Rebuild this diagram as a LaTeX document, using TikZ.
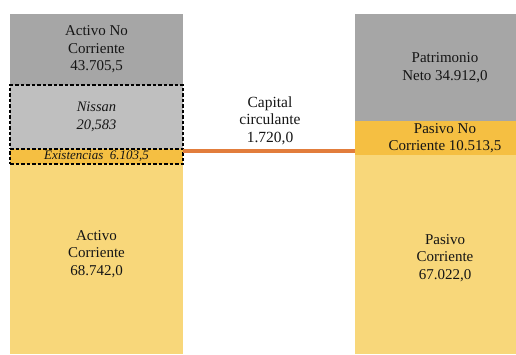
\documentclass[tikz,border=0pt]{standalone}
\usepackage{fontspec}
\setmainfont{Liberation Serif}
\definecolor{gris}{HTML}{A6A6A6}
\definecolor{grisclaro}{HTML}{BFBFBF}
\definecolor{naranja}{HTML}{F5BF42}
\definecolor{amarillo}{HTML}{F8D77A}
\definecolor{linea}{HTML}{E27D3C}
\definecolor{texto}{HTML}{151515}
\begin{document}
\begin{tikzpicture}[x=1pt,y=-1pt,
  bloque/.style={anchor=north west, inner sep=0pt, outer sep=0pt, align=center,
    text=texto, font=\fontsize{15}{17.5}\selectfont},
  rotulo/.style={align=center, text=texto, font=\fontsize{15}{17.5}\selectfont},
  marco/.style={draw=black, line width=1.3pt, dash pattern=on 3.5pt off 2pt},
  conector/.style={draw=linea, line width=4.5pt}]
\clip (0,0) rectangle (516,354);
% activo
\node[bloque, fill=gris, minimum width=173, minimum height=71] (anc) at (10,14) {Activo No\\Corriente\\43.705,5};
\node[bloque, fill=amarillo, minimum width=173, minimum height=190,
  label={[rotulo, yshift=5pt]center:Activo\\Corriente\\68.742,0}] (ac) at (10,164) {};
\node[bloque, fill=grisclaro, marco, minimum width=173, minimum height=64, font=\fontsize{14.5}{17.5}\selectfont\itshape] (nissan) at (10,85) {Nissan\\20,583};
\node[bloque, fill=naranja, marco, minimum width=173, minimum height=15, font=\fontsize{13}{15}\selectfont\itshape] (exist) at (10,149) {Existencias\ \ 6.103,5};
% pasivo
\node[bloque, fill=gris, minimum width=180, minimum height=107] (pn) at (355,14) {Patrimonio\\Neto 34.912,0};
\node[bloque, fill=naranja, minimum width=180, minimum height=34] (pnc) at (355,121) {Pasivo No\\Corriente 10.513,5};
\node[bloque, fill=amarillo, minimum width=180, minimum height=199,
  label={[rotulo, yshift=-3.5pt]center:Pasivo\\Corriente\\67.022,0}] (pc) at (355,155) {};
% capital circulante
\coordinate (ini) at (183,151);
\path[conector] (ini) -- (ini -| pnc.west);
\node[rotulo, font=\fontsize{15.5}{17.5}\selectfont] (cap) at (270,120.5) {Capital\\circulante\\1.720,0};
\end{tikzpicture}
\end{document}
